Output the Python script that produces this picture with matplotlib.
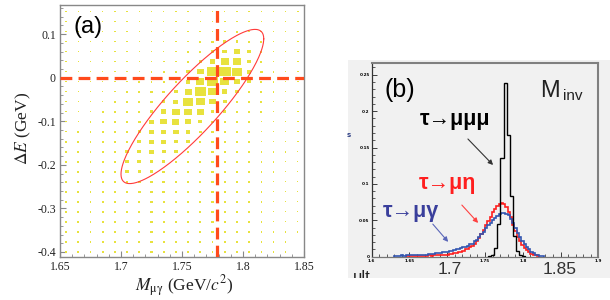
import numpy as np
import matplotlib
matplotlib.use('Agg')
import matplotlib.pyplot as plt
from matplotlib.patches import Rectangle, FancyArrowPatch
from matplotlib.collections import PatchCollection
from matplotlib.ticker import FixedLocator, MultipleLocator

plt.rcParams['mathtext.fontset'] = 'stix'
plt.rcParams['lines.scale_dashes'] = False

W, H = 610, 300

# ---------------- panel (a) data ----------------
mass_bins = [1.655, 1.665, 1.675, 1.685, 1.695, 1.705, 1.715, 1.725, 1.735, 1.745,
             1.755, 1.765, 1.775, 1.785, 1.795, 1.805, 1.815, 1.825, 1.835, 1.845]
de_bins = [0.152, 0.129, 0.106, 0.083, 0.060, 0.037, 0.014, -0.009, -0.032, -0.055,
           -0.078, -0.101, -0.124, -0.147, -0.170, -0.193, -0.216, -0.239, -0.262,
           -0.285, -0.308, -0.331, -0.354, -0.377, -0.400]
# box size per cell (rows follow de_bins, columns follow mass_bins)
box_sizes = [
    [2, 2, 2, 2, 2, 2, 2, 2, 2, 2, 2, 2, 2, 2, 2, 2, 2, 2, 2, 2],
    [2, 2, 2, 2, 2, 2, 2, 2, 2, 2, 2, 2, 3, 3, 3, 3, 2, 2, 2, 2],
    [2, 2, 2, 2, 2, 2, 2, 2, 2, 2, 2, 3, 3, 3, 4, 3, 3, 2, 2, 2],
    [2, 2, 2, 2, 2, 2, 2, 2, 2, 2, 3, 5, 5, 6, 6, 4, 4, 3, 2, 2],
    [2, 2, 2, 2, 2, 2, 2, 2, 2, 3, 4, 5, 8, 12, 16, 8, 4, 3, 2, 2],
    [2, 2, 2, 2, 2, 2, 2, 2, 3, 3, 5, 8, 15, 22, 24, 10, 5, 3, 2, 2],
    [2, 2, 2, 2, 2, 2, 2, 3, 3, 4, 10, 18, 30, 36, 28, 12, 6, 3, 2, 2],
    [2, 2, 2, 2, 2, 2, 3, 3, 4, 6, 12, 24, 30, 25, 15, 8, 5, 3, 2, 2],
    [2, 2, 2, 2, 2, 3, 3, 4, 6, 10, 20, 34, 25, 15, 10, 6, 4, 3, 2, 2],
    [2, 2, 2, 2, 3, 3, 4, 5, 8, 14, 30, 26, 18, 10, 6, 4, 3, 2, 2, 2],
    [2, 2, 2, 3, 3, 4, 5, 8, 15, 22, 22, 20, 10, 7, 5, 3, 3, 2, 2, 2],
    [2, 2, 3, 3, 3, 4, 6, 12, 18, 20, 18, 10, 6, 5, 4, 3, 2, 2, 2, 2],
    [2, 3, 3, 3, 4, 5, 8, 15, 15, 15, 12, 6, 5, 4, 3, 3, 2, 2, 2, 2],
    [3, 3, 3, 3, 4, 6, 10, 12, 12, 10, 8, 5, 5, 4, 3, 3, 2, 2, 2, 2],
    [3, 3, 3, 3, 5, 8, 10, 12, 10, 8, 6, 5, 5, 4, 3, 3, 2, 2, 2, 1],
    [3, 3, 3, 4, 6, 8, 10, 9, 8, 6, 5, 5, 4, 4, 3, 3, 2, 2, 1, 1],
    [3, 3, 3, 4, 5, 8, 8, 8, 7, 6, 5, 5, 4, 4, 3, 3, 2, 2, 1, 1],
    [3, 3, 3, 4, 5, 6, 7, 7, 7, 6, 5, 5, 4, 4, 3, 2, 2, 1, 1, 1],
    [3, 3, 3, 4, 5, 5, 6, 6, 6, 5, 5, 5, 4, 4, 3, 2, 2, 1, 1, 1],
    [3, 3, 3, 4, 4, 5, 5, 5, 5, 5, 5, 4, 4, 4, 3, 2, 2, 1, 1, 1],
    [3, 3, 3, 4, 4, 5, 5, 5, 5, 5, 5, 4, 4, 3, 3, 2, 2, 1, 1, 1],
    [3, 3, 3, 3, 4, 4, 5, 5, 5, 5, 4, 4, 4, 3, 3, 2, 2, 1, 1, 1],
    [3, 3, 3, 3, 4, 4, 4, 5, 5, 4, 4, 4, 4, 3, 2, 2, 1, 1, 1, 1],
    [3, 3, 3, 3, 4, 4, 4, 4, 4, 4, 4, 4, 3, 3, 2, 2, 1, 1, 1, 0],
    [3, 3, 3, 3, 3, 4, 4, 4, 4, 4, 4, 3, 3, 3, 2, 2, 1, 1, 1, 0],
]
tau_mass = 1.7785
a_xticks = [1.65, 1.70, 1.75, 1.80, 1.85]
a_xlabels = ['1.65', '1.7', '1.75', '1.8', '1.85']
a_yticks = [0.1, 0.0, -0.1, -0.2, -0.3, -0.4]
a_ylabels = ['0.1', '0', '-0.1', '-0.2', '-0.3', '-0.4']

# ---------------- panel (b) data ----------------
b_xticks = [1.60, 1.65, 1.70, 1.75, 1.80, 1.85, 1.90]
b_xlabels = ['1.6', '1.65', '', '1.75', '1.8', '', '1.9']
b_yticks = [0.0, 0.05, 0.10, 0.15, 0.20, 0.25]
b_ylabels = ['0', '0.05', '0.1', '0.15', '0.2', '0.25']

mumumu_edge0 = 1.7545
mumumu_width = 0.004
mumumu = [0.001, 0.003, 0.012, 0.045, 0.135, 0.239, 0.167, 0.083, 0.028, 0.008, 0.003, 0.001]

fine_edge0 = 1.600
fine_width = 0.003
mueta_start = 15
mueta = [0.001, 0.001, 0.001, 0.001, 0.001, 0.001, 0.001, 0.001,
         0.001, 0.001, 0.002, 0.001, 0.002, 0.002, 0.002, 0.002,
         0.003, 0.003, 0.003, 0.004, 0.004, 0.005,
         0.005, 0.006, 0.007, 0.008, 0.010, 0.011,
         0.013, 0.015, 0.018, 0.021, 0.026, 0.031, 0.037, 0.044,
         0.049, 0.055, 0.061, 0.066, 0.070, 0.073, 0.074,
         0.072, 0.068, 0.062, 0.054, 0.044, 0.035, 0.027, 0.021,
         0.016, 0.012, 0.009, 0.006, 0.004, 0.003, 0.002, 0.001]
mugamma_start = 10
mugamma = [0.001, 0.001, 0.001, 0.002, 0.001, 0.002, 0.002,
           0.002, 0.002, 0.003, 0.002, 0.003, 0.003,
           0.003, 0.003, 0.004, 0.004, 0.004, 0.005,
           0.005, 0.005, 0.006, 0.006, 0.007, 0.008,
           0.008, 0.009, 0.010, 0.011, 0.012, 0.013,
           0.014, 0.015, 0.017, 0.018,
           0.021, 0.023, 0.027, 0.031, 0.034, 0.039, 0.043, 0.046,
           0.050, 0.053, 0.056, 0.058, 0.060, 0.060, 0.059, 0.057,
           0.052, 0.046, 0.040, 0.033, 0.027, 0.022, 0.017, 0.013,
           0.010, 0.007, 0.005, 0.003, 0.002, 0.001, 0.001]


def fx(x):
    return x / W


def fy(y):
    return 1 - y / H


fig = plt.figure(figsize=(W / 100, H / 100), dpi=100)
fig.patch.set_facecolor('white')

# ================= panel (a) =================
ax1 = fig.add_axes([fx(60), fy(257), (304 - 60) / W, (257 - 5) / H])
ax1.set_xlim(1.65, 1.85)
ax1.set_ylim(-0.4115, 0.167)
ax_w_px = (304 - 60)
ax_h_px = (257 - 5)
px_x = (1.85 - 1.65) / ax_w_px
px_y = (0.167 + 0.4115) / ax_h_px

rects = []
for i, yc in enumerate(de_bins):
    for j, xc in enumerate(mass_bins):
        v = box_sizes[i][j]
        if v <= 0:
            continue
        wpx = min(v / 3.2, 11.0) + 0.8
        hpx = wpx * 0.82 if v > 4 else wpx
        w = wpx * px_x
        h = hpx * px_y
        rects.append(Rectangle((xc - w / 2, yc - h / 2), w, h))
pc = PatchCollection(rects, facecolor='#e8e23e', edgecolor='none', zorder=2)
ax1.add_collection(pc)

# ellipse (signal region)
t = np.linspace(0, 2 * np.pi, 300)
ecx, ecy, esx, esy, ephi = 1.7585, -0.066, 0.0585, 0.177, 0.50
ax1.plot(ecx + esx * np.cos(t), ecy + esy * np.cos(t - ephi), color='#ff3b3b', lw=0.8, zorder=3)

dash_kw = dict(color='#ff4a1c', lw=2.3, zorder=4)
lv = ax1.axvline(tau_mass, **dash_kw)
lh = ax1.axhline(0.0, **dash_kw)
for ln in (lv, lh):
    ln.set_dashes((8.5, 4.5))

ax1.xaxis.set_major_locator(FixedLocator(a_xticks))
ax1.set_xticklabels(a_xlabels)
ax1.yaxis.set_major_locator(FixedLocator(a_yticks))
ax1.set_yticklabels(a_ylabels)
ax1.xaxis.set_minor_locator(MultipleLocator(0.01))
ax1.yaxis.set_minor_locator(MultipleLocator(0.02))
ax1.tick_params(which='both', direction='in', color='#888888', top=False, right=False,
                labelsize=8.5, labelcolor='#222222', pad=3)
ax1.tick_params(which='major', length=4.5, width=0.8)
ax1.tick_params(which='minor', length=2.5, width=0.6)
for lab in ax1.get_xticklabels() + ax1.get_yticklabels():
    lab.set_fontfamily('Liberation Serif')
for s in ax1.spines.values():
    s.set_color('#888888')
    s.set_linewidth(1.0)

fig.text(fx(88), fy(27), '(a)', fontsize=17, family='Liberation Sans', ha='center', va='center')
fig.text(fx(23), fy(128), r'$\Delta E$ (GeV)', rotation=90, fontsize=12.5,
         family='Liberation Serif', ha='center', va='center', color='#222222')
fig.text(fx(184), fy(286), r'$M_{\mathrm{μγ}}$ (GeV/$c^2$)', fontsize=12.5,
         family='Liberation Serif', ha='center', va='center', color='#222222')

# ================= panel (b) =================
axbg = fig.add_axes([fx(348), fy(278), (610 - 348) / W, (278 - 60) / H])
axbg.set_facecolor('#f1f1f1')
axbg.set_xticks([])
axbg.set_yticks([])
for s in axbg.spines.values():
    s.set_visible(False)
axbg.set_xlim(0, 1)
axbg.set_ylim(0, 1)
axbg.text(0.02, -0.03, 'ult', fontsize=12, family='Liberation Sans', color='#222222',
          ha='left', va='bottom', clip_on=True)

ax2 = fig.add_axes([fx(371.7), fy(256.7), (598.3 - 371.7) / W, (256.7 - 62.7) / H])
ax2.set_facecolor('#f1f1f1')
ax2.set_xlim(1.6, 1.9)
ax2.set_ylim(0, 0.2665)

red_edges = fine_edge0 + fine_width * np.arange(mueta_start, mueta_start + len(mueta) + 1)
blue_edges = fine_edge0 + fine_width * np.arange(mugamma_start, mugamma_start + len(mugamma) + 1)
black_edges = mumumu_edge0 + mumumu_width * np.arange(len(mumumu) + 1)
ax2.stairs(mueta, red_edges, color='#ff1f1f', lw=1.2, zorder=3)
ax2.stairs(mugamma, blue_edges, color='#3355b0', lw=1.2, zorder=4)
ax2.stairs(mumumu, black_edges, color='#000000', lw=1.0, zorder=5)

ax2.xaxis.set_major_locator(FixedLocator(b_xticks))
ax2.set_xticklabels(b_xlabels)
ax2.yaxis.set_major_locator(FixedLocator(b_yticks))
ax2.set_yticklabels(b_ylabels)
ax2.xaxis.set_minor_locator(MultipleLocator(0.01))
ax2.yaxis.set_minor_locator(MultipleLocator(0.01))
ax2.tick_params(which='both', direction='in', color='#222222', top=False, right=False,
                labelsize=3, pad=1.5)
ax2.tick_params(which='major', length=3.5, width=0.6)
ax2.tick_params(which='minor', length=2, width=0.5)
for lab in ax2.get_xticklabels() + ax2.get_yticklabels():
    lab.set_fontweight('bold')
ax2.spines['left'].set_color('#333333')
ax2.spines['left'].set_linewidth(0.9)
ax2.spines['bottom'].set_color('#777777')
ax2.spines['bottom'].set_linewidth(0.9)
ax2.spines['top'].set_color('#808080')
ax2.spines['top'].set_linewidth(1.5)
ax2.spines['right'].set_color('#808080')
ax2.spines['right'].set_linewidth(1.5)

fig.text(fx(450), fy(270), '1.7', fontsize=12.5, family='Liberation Sans', color='#333333',
         ha='center', va='center')
fig.text(fx(560), fy(270), '1.85', fontsize=12.5, family='Liberation Sans', color='#333333',
         ha='center', va='center')
fig.text(fx(349), fy(135), 's', fontsize=5, fontweight='bold', color='#334488',
         ha='center', va='center')

fig.text(fx(400), fy(90), '(b)', fontsize=18, family='Liberation Sans', ha='center', va='center')
fig.text(fx(540), fy(91), 'M', fontsize=17, family='Liberation Sans', ha='left', va='center',
         color='#222222')
fig.text(fx(563), fy(96), 'inv', fontsize=11, family='Liberation Sans', ha='left', va='center',
         color='#222222')

lbl_font = ['Liberation Sans', 'DejaVu Sans']
fig.text(fx(420), fy(120), 'τ→μμμ', fontsize=15.5, family=lbl_font, fontweight='bold',
         ha='left', va='center', color='#000000')
fig.text(fx(419), fy(184), 'τ→μη', fontsize=15.5, family=lbl_font, fontweight='bold',
         ha='left', va='center', color='#ff1f1f')
fig.text(fx(383), fy(211), 'τ→μγ', fontsize=15.5, family=lbl_font, fontweight='bold',
         ha='left', va='center', color='#3a3f9c')

for (x0, y0, x1, y1, c) in [(466, 137, 495, 167, '#333333'),
                            (460, 203, 480, 225, '#ff4040'),
                            (431, 222, 450, 244, '#5a66b8')]:
    arr = FancyArrowPatch((fx(x0), fy(y0)), (fx(x1), fy(y1)), transform=fig.transFigure,
                          arrowstyle='-|>', mutation_scale=7, lw=0.8, color=c, zorder=10)
    fig.add_artist(arr)

fig.savefig('out.png', dpi=100)
